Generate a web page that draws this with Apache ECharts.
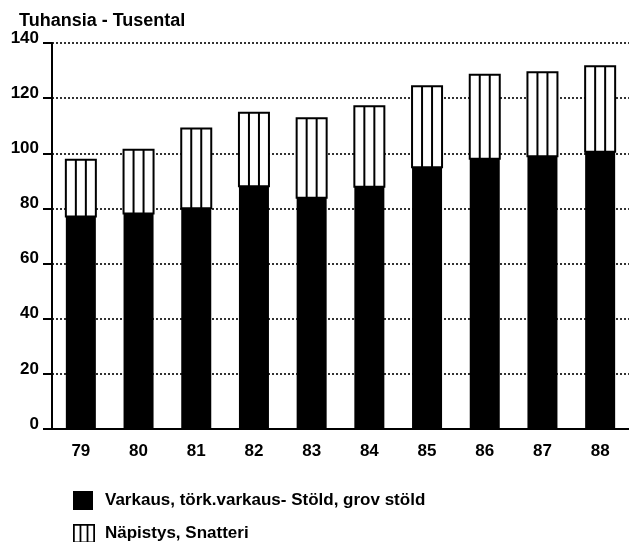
<!DOCTYPE html>
<html>
<head>
<meta charset="utf-8">
<script src="https://cdn.jsdelivr.net/npm/echarts@6/dist/echarts.min.js"></script>
<style>html,body{margin:0;padding:0;background:#fff;}#c{width:629px;height:542px;}</style>
</head>
<body>
<div id="c"></div>
<script>
const years = ['79', '80', '81', '82', '83', '84', '85', '86', '87', '88'];
const stold = [77.1, 78.2, 80.1, 88.0, 83.9, 87.9, 94.9, 98.0, 98.9, 100.6];
const snatteri = [20.6, 23.1, 28.9, 26.7, 28.8, 29.2, 29.4, 30.5, 30.5, 31.0];
const nameStold = 'Varkaus, törk.varkaus- Stöld, grov stöld';
const nameSnatteri = 'Näpistys, Snatteri';
const yTitle = 'Tuhansia - Tusental';

const FONT = '"Liberation Sans", Arial, sans-serif';
const chart = echarts.init(document.getElementById('c'), null, {renderer: 'canvas'});

const customData = years.map((y, i) => [i, stold[i], snatteri[i]]);

const stripeIcon = 'path://M0,0H25V22H0Z M2,2V20H7.5V2Z M9.5,2V20H15.5V2Z M17.5,2V20H23V2Z';
const legendText = {fontFamily: FONT, fontSize: 17, fontWeight: 'bold', color: '#000', padding: [0, 0, 0, 7]};

chart.setOption({
  animation: false,
  backgroundColor: '#fff',
  title: {
    text: yTitle, left: 14, top: 7,
    textStyle: {fontFamily: FONT, fontSize: 18, fontWeight: 'bold', color: '#000'}
  },
  grid: {left: 52, right: 0, top: 43, bottom: 113, containLabel: false},
  legend: [
    {
      left: 68, top: 486, itemWidth: 20, itemHeight: 19, itemGap: 10,
      textStyle: legendText,
      data: [{name: nameStold, icon: 'rect', itemStyle: {color: '#000'}}]
    },
    {
      left: 68, top: 519, itemWidth: 22, itemHeight: 22, itemGap: 10,
      textStyle: {fontFamily: FONT, fontSize: 17, fontWeight: 'bold', color: '#000', padding: [0, 0, 0, 5]},
      data: [{name: nameSnatteri, icon: stripeIcon, itemStyle: {color: '#000'}}]
    }
  ],
  xAxis: {
    type: 'category', data: years,
    axisLine: {lineStyle: {color: '#000', width: 2}},
    axisTick: {show: false},
    axisLabel: {fontFamily: FONT, fontSize: 17, fontWeight: 'bold', color: '#000', margin: 14}
  },
  yAxis: {
    type: 'value', min: 0, max: 140, interval: 20,
    axisLine: {show: true, lineStyle: {color: '#000', width: 2}},
    axisTick: {show: true, length: 9, lineStyle: {color: '#000', width: 2}},
    axisLabel: {fontFamily: FONT, fontSize: 17, fontWeight: 'bold', color: '#000', margin: 13, verticalAlign: 'bottom', lineHeight: 10},
    splitLine: {show: true, lineStyle: {color: '#000', width: 1.6, type: [2, 2]}}
  },
  series: [
    {
      name: nameStold, type: 'bar', data: stold, barWidth: '52%',
      itemStyle: {color: '#000'}, z: 3
    },
    {
      name: nameSnatteri, type: 'custom', data: customData,
      encode: {x: 0, y: [1, 2]},
      itemStyle: {color: '#000'}, z: 4,
      renderItem: function (params, api) {
        const i = api.value(0);
        const base = api.value(1);
        const v = api.value(2);
        const p0 = api.coord([i, base]);
        const p1 = api.coord([i, base + v]);
        const bw = api.size([1, 0])[0] * 0.52;
        const x = p0[0] - bw / 2;
        const top = p1[1];
        const bottom = p0[1];
        return {
          type: 'group',
          children: [
            {type: 'rect', shape: {x: x, y: top, width: bw, height: bottom - top},
             style: {fill: '#fff', stroke: '#000', lineWidth: 2}},
            {type: 'line', shape: {x1: x + bw / 3, y1: top, x2: x + bw / 3, y2: bottom},
             style: {stroke: '#000', lineWidth: 2}},
            {type: 'line', shape: {x1: x + 2 * bw / 3, y1: top, x2: x + 2 * bw / 3, y2: bottom},
             style: {stroke: '#000', lineWidth: 2}}
          ]
        };
      }
    }
  ]
});
</script>
</body>
</html>
